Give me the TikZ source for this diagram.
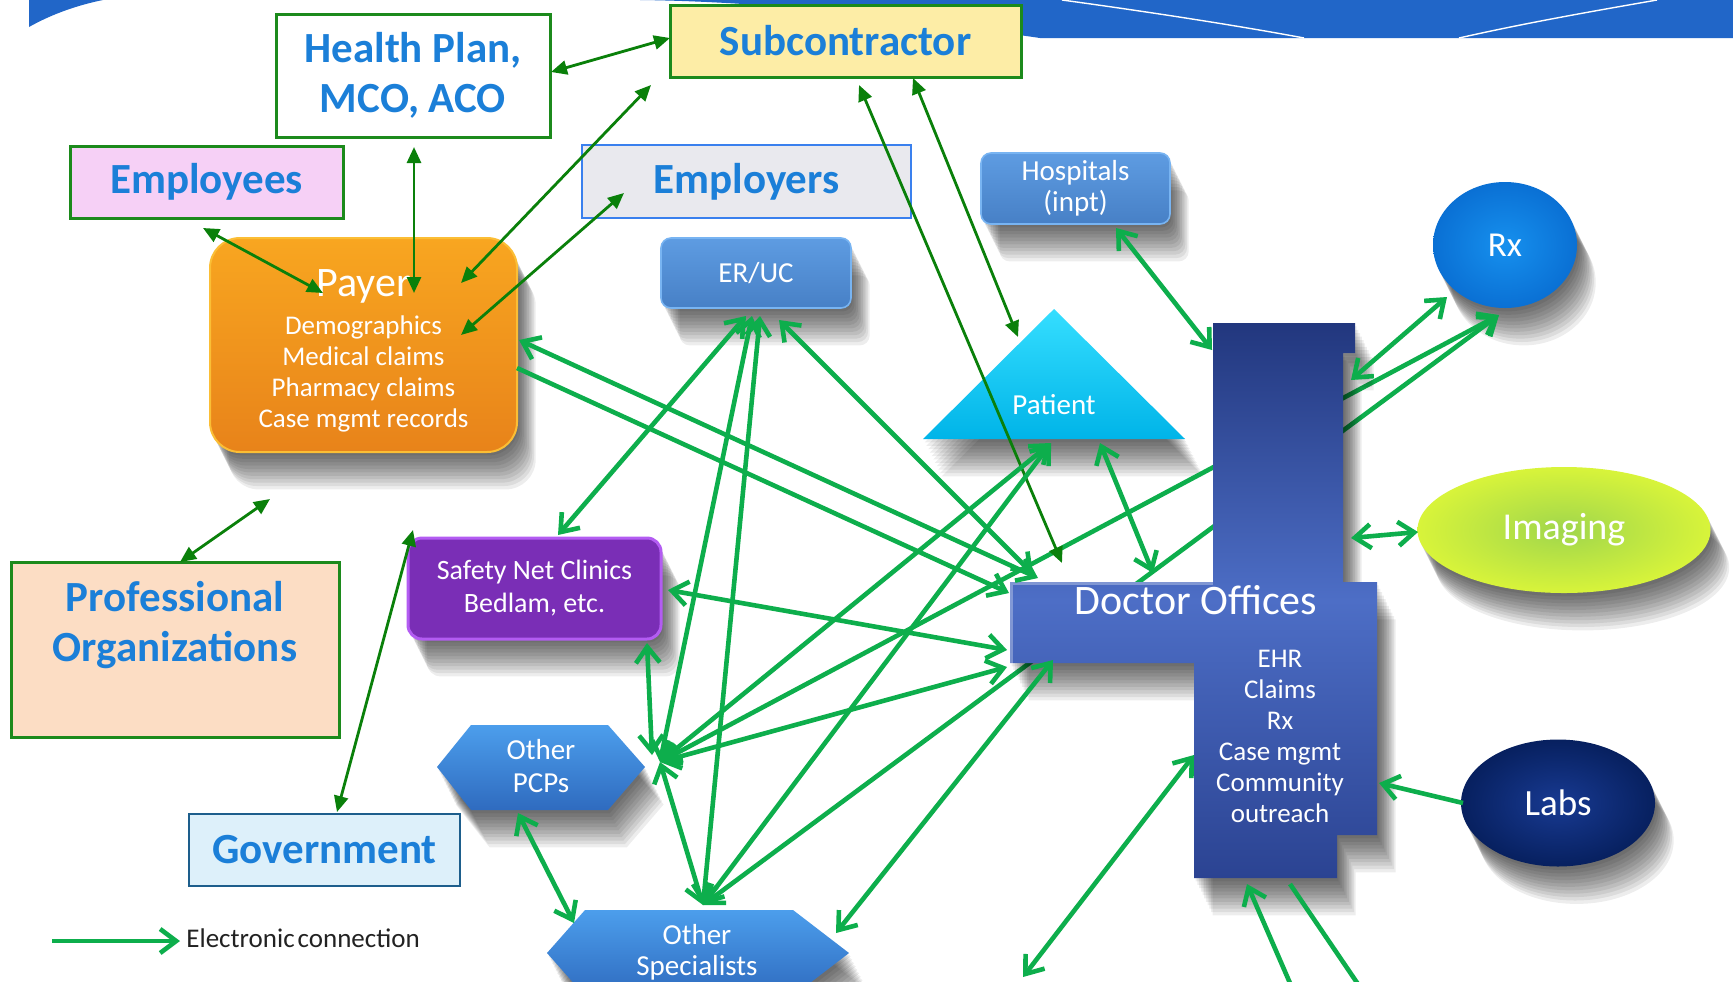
\documentclass[tikz,border=0pt]{standalone}
\usepackage{fontspec}
\setmainfont{Carlito}
\usetikzlibrary{arrows.meta,shapes.geometric}

\definecolor{bandblue}{HTML}{2166C8}
\definecolor{boxgreen}{HTML}{1C8A1C}
\definecolor{headblue}{HTML}{1B7FD8}
\definecolor{ecgreen}{HTML}{0DAE4C}
\definecolor{dkgreen}{HTML}{0A800A}
\definecolor{subfill}{HTML}{FDEDA6}
\definecolor{empfill}{HTML}{F6D0F6}
\definecolor{emprfill}{HTML}{E9E9EE}
\definecolor{emprline}{HTML}{3A80EE}
\definecolor{proffill}{HTML}{FCDDC4}
\definecolor{govfill}{HTML}{DDF0FA}
\definecolor{govline}{HTML}{1D5E8C}
\definecolor{payertop}{HTML}{F8A620}
\definecolor{payerbot}{HTML}{E8831A}
\definecolor{payerrim}{HTML}{FBBE35}
\definecolor{btop}{HTML}{5E9CE2}
\definecolor{bbot}{HTML}{4780C6}
\definecolor{brim}{HTML}{78B4F2}
\definecolor{pattop}{HTML}{35DEFF}
\definecolor{patbot}{HTML}{00B4E8}
\definecolor{snfill}{HTML}{7A2EB6}
\definecolor{snrim}{HTML}{B35CF2}
\definecolor{hextop}{HTML}{4C9EEC}
\definecolor{hexbot}{HTML}{2F6BBF}
\definecolor{dotop}{HTML}{22377E}
\definecolor{domid}{HTML}{4D6EC6}
\definecolor{dobot}{HTML}{2B4392}
\definecolor{rxin}{HTML}{1690EE}
\definecolor{rxout}{HTML}{0A70D4}
\definecolor{imgin}{HTML}{A0D64C}
\definecolor{imgout}{HTML}{D8F43A}
\definecolor{labin}{HTML}{183A92}
\definecolor{labout}{HTML}{07205F}
\definecolor{legendtext}{HTML}{222222}

\begin{document}
\begin{tikzpicture}[x=0.5pt,y=-0.5pt,
  headtext/.style={text=headblue, font=\fontsize{21.5pt}{25pt}\selectfont\bfseries, align=center},
  orgbox/.style={rectangle, draw=boxgreen, line width=1.5pt, inner sep=0pt, headtext},
  % soft drop shadow: a stack of faint copies stepping down and to the right
  shadowcopy/.style={preaction={fill=black, opacity=0.07, transform canvas={shift={(#1*0.85pt,-#1*1.7pt)}}}},
  softshadow/.style={shadowcopy=1, shadowcopy=2, shadowcopy=3, shadowcopy=4,
    shadowcopy=5, shadowcopy=6, shadowcopy=7, shadowcopy=8, shadowcopy=9,
    shadowcopy=10, shadowcopy=11},
  whitetext/.style={text=white, align=center, font=\fontsize{14.5pt}{15.5pt}\selectfont},
  bevelbox/.style={rectangle, rounded corners=5pt, top color=btop, bottom color=bbot, draw=brim, line width=0.8pt, inner sep=0pt, whitetext, softshadow},
  payerbox/.style={rectangle, rounded corners=15pt, top color=payertop, bottom color=payerbot, draw=payerrim, line width=1pt, inner sep=0pt, text=white, align=center, font=\fontsize{13.5pt}{15.5pt}\selectfont, softshadow},
  snbox/.style={rectangle, rounded corners=7pt, fill=snfill, draw=snrim, line width=1.5pt, inner sep=0pt, text=white, align=center, font=\fontsize{14pt}{16.5pt}\selectfont, softshadow},
  hexshade/.style={top color=hextop, bottom color=hexbot, softshadow},
  blob/.style={ellipse, inner sep=0pt, text=white, softshadow},
  ecboth/.style={draw=ecgreen, line width=2.3pt, {Straight Barb[length=8pt,width=12pt]}-{Straight Barb[length=8pt,width=12pt]}},
  econe/.style={draw=ecgreen, line width=2.3pt, -{Straight Barb[length=8pt,width=12pt]}},
  ecline/.style={draw=ecgreen, line width=2.3pt},
  dkboth/.style={draw=dkgreen, line width=1.4pt, {Triangle[length=8pt,width=7pt]}-{Triangle[length=8pt,width=7pt]}}
]
\clip (0,0) rectangle (1733,981);
\fill[white] (0,0) rectangle (1733,981);

% title band
\fill[bandblue] (29,0) -- (29,27) .. controls (52,14) and (78,5) .. (103,0) -- cycle;
\fill[bandblue] (640,0) .. controls (800,2) and (950,25) .. (1040,38) -- (1733,38) -- (1733,0) -- cycle;
\draw[white, line width=0.7pt] (1062,0) .. controls (1150,12) and (1240,26) .. (1304,38);
\draw[white, line width=0.7pt] (1459,38) .. controls (1530,22) and (1600,10) .. (1657,0);

% organisations
\node[orgbox, fill=subfill, minimum width=175.5pt, minimum height=36pt] (subcon) at (845.5,41) {Subcontractor};
\node[orgbox, fill=white, minimum width=137pt, minimum height=61.5pt] (hplan) at (413,75.5) {Health Plan,\\MCO, ACO};
\node[orgbox, fill=empfill, minimum width=136.5pt, minimum height=36pt] (employees) at (206.5,182) {Employees};
\node[orgbox, draw=emprline, line width=1.2pt, fill=emprfill, minimum width=164.5pt, minimum height=36.5pt] (employers) at (746.5,181.5) {Employers};
\node[orgbox, fill=proffill, minimum width=164pt, minimum height=87.5pt, text depth=27.8pt] (proforg) at (175,649.5) {Professional\\Organizations};
\node[orgbox, draw=govline, line width=1.2pt, fill=govfill, minimum width=135.5pt, minimum height=36pt] (gov) at (324.5,850) {Government};

% care settings
\node[payerbox, minimum width=153.5pt, minimum height=107pt] (payer) at (363.5,345)
  {\rule{0pt}{19pt}{\fontsize{21pt}{25pt}\selectfont Payer}\\[3.5pt]Demographics\\Medical claims\\Pharmacy claims\\Case mgmt records};
\node[bevelbox, minimum width=94.5pt, minimum height=35.5pt] (hosp) at (1075.5,188.5) {Hospitals\\(inpt)};
\node[bevelbox, minimum width=95pt, minimum height=35pt] (eruc) at (756,273) {ER/UC};
\node[snbox, minimum width=126.5pt, minimum height=50.5pt] (safety) at (534.5,588.5) {Safety Net Clinics\\Bedlam, etc.};

\path[top color=pattop, bottom color=patbot, softshadow] (1054,309) -- (1185,439) -- (923,439) -- cycle;
\node[whitetext] (patient) at (1054,405) {Patient};

\path[hexshade] (437,767) -- (471,725) -- (608,725) -- (645,767) -- (608,810) -- (471,810) -- cycle;
\node[whitetext, font=\fontsize{14.5pt}{16.5pt}\selectfont] (pcp) at (541,766) {Other\\PCPs};
\path[hexshade] (547,953) -- (585,910) -- (793,910) -- (849,953) -- (793,996) -- (585,996) -- cycle;
\node[whitetext, font=\fontsize{14.5pt}{15.5pt}\selectfont] (spec) at (697,952) {Other\\Specialists};

\node[blob, inner color=rxin, outer color=rxout, minimum width=72pt, minimum height=63pt, font=\fontsize{17.5pt}{20pt}\selectfont] (rx) at (1505,245) {Rx};
\node[blob, inner color=imgin, outer color=imgout, minimum width=146.5pt, minimum height=63pt, font=\fontsize{19pt}{22pt}\selectfont] (imaging) at (1564,530) {Imaging};
\node[blob, inner color=labin, outer color=labout, minimum width=97pt, minimum height=63.5pt, font=\fontsize{18.5pt}{22pt}\selectfont] (labs) at (1558,803) {Labs};

% connection points
\coordinate (hp-e) at (551,72);   \coordinate (sc-w) at (670,38);
\coordinate (hp-s) at (414,147);  \coordinate (py-n) at (414,293);
\coordinate (ee-s) at (203,228);  \coordinate (py-nw) at (323,293);
\coordinate (py-ne1) at (461,283); \coordinate (sc-sw) at (651,85);
\coordinate (py-ne2) at (461,335); \coordinate (em-sw) at (624,193);
\coordinate (po-n) at (180,562);  \coordinate (po-free) at (270,499);
\coordinate (gv-n) at (337,812);  \coordinate (gv-free) at (413,530);
\coordinate (sc-s1) at (859,85);  \coordinate (do-top) at (1062,563);
\coordinate (sc-s2) at (913,78);  \coordinate (pt-n) at (1018,337);
\coordinate (py-e1) at (519,340); \coordinate (do-a) at (1038,578);
\coordinate (py-e2) at (517,368); \coordinate (do-b) at (1009,593);
\coordinate (eu-s1) at (746,316); \coordinate (sn-n) at (558,535);
\coordinate (eu-s2) at (752,316); \coordinate (pcp-e) at (660,762);
\coordinate (eu-s3) at (760,316); \coordinate (sp-n) at (703,905);
\coordinate (eu-s4) at (779,320); \coordinate (do-a2) at (1033,574);
\coordinate (sn-e) at (668,590);  \coordinate (do-w1) at (1007,650);
\coordinate (sn-s) at (647,643);  \coordinate (pcp-n) at (652,755);
\coordinate (do-w2) at (1007,667);
\coordinate (pt-s1) at (1051,443); \coordinate (pt-s2) at (1100,443);
\coordinate (rx-s) at (1499,315);
\coordinate (pcp-sw) at (518,813); \coordinate (sp-nw) at (574,923);
\coordinate (sp-e) at (836,933);  \coordinate (do-sw) at (1053,660);
\coordinate (do-n) at (1153,573);
\coordinate (hs-s) at (1116,228); \coordinate (do-nw) at (1212,350);
\coordinate (rx-sw) at (1447,297); \coordinate (do-ne) at (1351,380);
\coordinate (im-w) at (1418,532); \coordinate (do-e) at (1351,538);
\coordinate (lb-w) at (1463,803); \coordinate (do-e2) at (1379,783);
\coordinate (do-w3) at (1194,755); \coordinate (out-1) at (1023,977);
\coordinate (do-s1) at (1247,884); \coordinate (out-2) at (1293,990);
\coordinate (do-s2) at (1290,884); \coordinate (out-3) at (1362,990);

% links from the pharmacy that pass behind the doctor offices
\draw[ecboth] (rx-s) -- (pcp-e);
\draw[ecboth] (rx-s) -- (sp-n);

% doctor offices block
\path[top color=dotop, bottom color=dobot, middle color=domid, softshadow]
  (1213,323) -- (1355,323) -- (1355,353) -- (1343,353) -- (1343,582) -- (1377,582)
  -- (1377,835) -- (1337,835) -- (1337,878) -- (1194,878) -- (1194,663) -- (1010,663)
  -- (1010,582) -- (1213,582) -- cycle;
\draw[white, opacity=0.3, line width=1.5pt] (1011,664) -- (1011,583) -- (1213,583);
\node[text=white, font=\fontsize{21pt}{25pt}\selectfont] (do) at (1196,600) {Doctor Offices};
\node[text=white, align=center, font=\fontsize{13.5pt}{15.5pt}\selectfont] (dolist) at (1280,736)
  {EHR\\Claims\\Rx\\Case mgmt\\Community\\outreach};

% organisational links
\draw[dkboth] (hp-e) -- (sc-w);
\draw[dkboth] (hp-s) -- (py-n);
\draw[dkboth] (ee-s) -- (py-nw);
\draw[dkboth] (py-ne1) -- (sc-sw);
\draw[dkboth] (py-ne2) -- (em-sw);
\draw[dkboth] (po-n) -- (po-free);
\draw[dkboth] (gv-n) -- (gv-free);
\draw[dkboth] (sc-s1) -- (do-top);
\draw[dkboth] (sc-s2) -- (pt-n);

% electronic connections
\draw[ecboth] (py-e1) -- (do-a);
\draw[econe] (py-e2) -- (do-b);
\draw[ecboth] (eu-s1) -- (sn-n);
\draw[ecboth] (eu-s2) -- (pcp-e);
\draw[ecboth] (eu-s3) -- (sp-n);
\draw[ecboth] (eu-s4) -- (do-a2);
\draw[ecboth] (sn-e) -- (do-w1);
\draw[ecboth] (sn-s) -- (pcp-n);
\draw[ecboth] (pcp-e) -- (do-w2);
\draw[ecboth] (pcp-e) -- (pt-s1);
\draw[ecboth] (pcp-e) -- (sp-n);
\draw[ecboth] (pcp-sw) -- (sp-nw);
\draw[ecboth] (pt-s1) -- (sp-n);
\draw[ecboth] (sp-e) -- (do-sw);
\draw[ecboth] (pt-s2) -- (do-n);
\draw[ecboth] (hs-s) -- (do-nw);
\draw[ecboth] (rx-sw) -- (do-ne);
\draw[ecboth] (im-w) -- (do-e);
\draw[econe] (lb-w) -- (do-e2);
\draw[ecboth] (do-w3) -- (out-1);
\draw[econe] (out-2) -- (do-s1);
\draw[ecline] (do-s2) -- (out-3);

% legend
\coordinate (leg-a) at (52,941);
\node[anchor=base west, inner sep=0pt, text=legendtext, font=\fontsize{13.5pt}{15pt}\selectfont] (legend) at (186,947) {Electronic\hspace{1.5pt}connection};
\draw[econe, shorten >=3pt] (leg-a) -- (leg-a -| legend.west);
\end{tikzpicture}
\end{document}
